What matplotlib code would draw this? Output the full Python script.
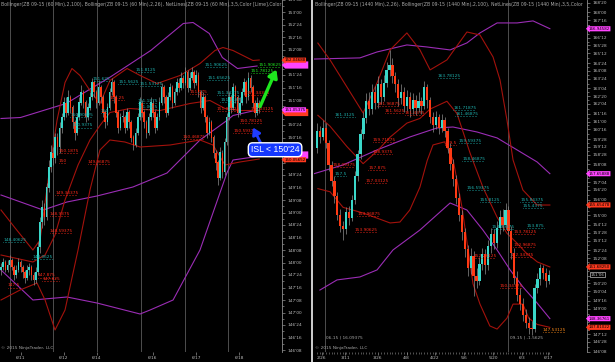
import matplotlib
matplotlib.use("Agg")
import matplotlib.pyplot as plt
import matplotlib.transforms as mtransforms
from matplotlib.patches import Polygon
from matplotlib import font_manager
import numpy as np

# ------------------------------------------------------------------ data
# Left panel: ZB 09-15, 60-minute bars (open of each bar = previous close)
L_first_open = 147.85
L_close = [147.90, 148.00, 147.85, 147.95, 148.05, 147.90, 147.75, 147.85, 148.00, 147.90,
           147.80, 147.70, 147.85, 147.90, 147.75, 147.65, 147.80, 148.30, 148.80, 149.10,
           148.90, 149.50, 149.90, 150.20, 150.10, 150.50, 150.30, 150.70, 150.90, 151.20,
           151.00, 151.30, 151.10, 150.80, 150.60, 150.90, 151.20, 151.40, 151.20, 150.90,
           151.10, 151.30, 151.60, 151.40, 151.20, 151.50, 151.30, 151.00, 150.80, 151.10,
           151.40, 151.60, 151.30, 151.00, 150.70, 150.90, 150.90, 150.70, 151.00, 150.80,
           150.50, 150.35, 150.60, 150.90, 151.20, 151.00, 150.80, 150.60, 150.90, 151.20,
           151.00, 150.70, 150.90, 151.20, 151.50, 151.30, 151.00, 151.30, 151.50, 151.20,
           151.40, 151.60, 151.50, 151.70, 151.60, 151.80, 151.50, 151.70, 151.80, 151.60,
           151.75, 151.40, 151.10, 151.30, 150.90, 150.60, 150.80, 150.50, 150.20, 150.00,
           149.70, 150.20, 149.80, 150.40, 150.90, 151.30, 151.10, 151.50, 151.30, 151.00,
           151.20, 151.40, 151.60, 151.30, 151.70, 151.50, 151.20, 151.00, 151.20, 151.10]
L_high = [148.00, 148.10, 148.05, 148.05, 148.15, 148.10, 147.95, 147.95, 148.10, 148.05,
          147.95, 147.85, 147.95, 148.00, 147.95, 147.80, 147.90, 148.40, 148.90, 149.25,
          149.20, 149.60, 150.05, 150.35, 150.30, 150.60, 150.60, 150.80, 151.00, 151.30,
          151.30, 151.45, 151.35, 151.15, 150.85, 151.00, 151.30, 151.55, 151.45, 151.25,
          151.20, 151.40, 151.70, 151.65, 151.45, 151.65, 151.55, 151.35, 151.05, 151.20,
          151.50, 151.70, 151.65, 151.35, 151.05, 151.00, 151.05, 150.95, 151.10, 151.05,
          150.85, 150.55, 150.70, 151.00, 151.30, 151.25, 151.05, 150.85, 151.00, 151.30,
          151.25, 151.05, 151.00, 151.30, 151.60, 151.55, 151.35, 151.40, 151.60, 151.55,
          151.50, 151.70, 151.70, 151.80, 151.75, 151.90, 151.85, 151.80, 151.92, 151.85,
          151.85, 151.80, 151.45, 151.40, 151.35, 150.95, 150.90, 150.85, 150.55, 150.25,
          150.05, 150.30, 150.25, 150.50, 151.00, 151.40, 151.35, 151.60, 151.55, 151.35,
          151.30, 151.50, 151.70, 151.65, 151.80, 151.75, 151.55, 151.25, 151.30, 151.25]
L_low = [147.75, 147.85, 147.80, 147.80, 147.90, 147.85, 147.65, 147.70, 147.80, 147.80,
         147.70, 147.60, 147.65, 147.75, 147.65, 147.55, 147.60, 147.75, 148.20, 148.70,
         148.75, 148.85, 149.40, 149.80, 149.95, 150.00, 150.15, 150.20, 150.60, 150.85,
         150.90, 150.95, 151.00, 150.70, 150.45, 150.55, 150.85, 151.15, 151.10, 150.80,
         150.85, 151.05, 151.25, 151.30, 151.10, 151.15, 151.20, 150.90, 150.70, 150.75,
         151.05, 151.35, 151.20, 150.90, 150.60, 150.65, 150.80, 150.60, 150.65, 150.70,
         150.40, 150.25, 150.30, 150.55, 150.85, 150.90, 150.70, 150.50, 150.55, 150.85,
         150.90, 150.60, 150.65, 150.85, 151.15, 151.20, 150.90, 150.95, 151.25, 151.10,
         151.15, 151.35, 151.40, 151.45, 151.50, 151.55, 151.40, 151.45, 151.65, 151.50,
         151.55, 151.30, 151.00, 151.05, 150.80, 150.50, 150.55, 150.40, 150.10, 149.85,
         149.55, 149.65, 149.70, 149.75, 150.35, 150.85, 151.00, 151.05, 151.20, 150.90,
         150.95, 151.15, 151.35, 151.20, 151.25, 151.40, 151.10, 150.90, 150.95, 151.00]

# Left Bollinger bands (bar index, price)
L_p_up_x = [0, 9, 30, 50, 69, 84, 88.5, 96, 102, 109, 118]
L_p_up_y = [150.88, 150.90, 151.18, 151.70, 152.24, 152.78, 152.80, 152.58, 152.10, 151.88, 151.93]
L_p_mid_x = [0, 19.4, 30.4, 44.2, 60.8, 76.5, 91.7, 104.1, 106.9, 118]
L_p_mid_y = [149.35, 149.05, 149.21, 149.33, 149.51, 149.79, 150.45, 150.84, 150.94, 151.05]
L_p_lo_x = [0, 14.7, 30.4, 44.2, 64.1, 68.7, 79.3, 91.7, 104.1, 106.9, 118]
L_p_lo_y = [147.85, 147.25, 147.31, 147.19, 146.97, 147.05, 147.25, 148.25, 149.79, 150.05, 150.12]
L_r_up_x = [0, 6.5, 14.7, 18, 21.7, 25.8, 29.5, 32.7, 36.4, 41, 45.6, 50.2, 58.1, 64.1, 71.9,
            82.5, 91.7, 98.6, 102.3, 106.9, 116.1, 119]
L_r_up_y = [149.05, 148.69, 148.25, 148.45, 149.65, 150.84, 151.60, 151.88, 151.74, 151.44,
            151.18, 151.64, 151.88, 151.74, 151.58, 151.74, 151.98, 152.24, 152.30, 152.24,
            152.04, 152.05]
L_r_mid_x = [0, 14.7, 20.3, 24.9, 29.5, 35.5, 41, 45.6, 50.2, 59.4, 73.3, 87.1, 96.3, 103.2, 110.1, 119]
L_r_mid_y = [148.15, 148.01, 148.15, 148.55, 149.25, 149.95, 150.45, 150.74, 151.00, 151.08,
             151.04, 151.18, 151.24, 151.08, 151.04, 151.04]
L_r_lo_x = [0, 8.8, 16.6, 20.3, 24.9, 29.5, 35.5, 41, 45.6, 50.2, 57.1, 64.1, 77.9, 91.7,
            97.7, 103.2, 110.1, 119]
L_r_lo_y = [147.25, 147.45, 147.59, 147.25, 146.65, 147.05, 148.25, 149.45, 150.25, 150.45,
            150.41, 150.31, 150.35, 150.45, 150.35, 149.95, 150.01, 150.07]

L_yticks = [146.25, 146.5, 146.75, 147.0, 147.25, 147.5, 147.75, 148.0, 148.25, 148.5,
            148.75, 149.0, 149.25, 149.5, 149.75, 150.0, 150.25, 150.5, 150.75, 151.0,
            151.25, 151.5, 151.75, 152.0, 152.25, 152.5, 152.75, 153.0, 153.25]
L_hidden_ticks = [150.0, 150.25, 151.0, 152.0]      # covered by markers / ISL box
L_date_pos = [9.1, 29.0, 44.1, 69.9, 89.9, 109.8]
L_date_lbl = ['6/11', '6/12', '6/14', '6/16', '6/17', '6/18']
L_sessions = [4.15, 24.1, 44.1, 64.5, 84.8, 104.8]

# NetLines price labels: (text, bar, price, colour key)
L_netlines = [
    ("151.8125", 62, 151.8125, 'c'), ("151.625", 42, 151.625, 'c'), ("151.5625", 54, 151.5625, 'c'),
    ("151.53125", 64, 151.53125, 'c'), ("151.90625", 94, 151.90625, 'c'), ("151.65625", 95, 151.65625, 'c'),
    ("151.375", 87, 151.375, 'r'), ("151.34375", 99.5, 151.34375, 'c'), ("151.21875", 101, 151.21875, 'c'),
    ("151.34375", 113, 151.34375, 'r'), ("151.1875", 63, 151.1875, 'c'), ("151.0625", 63, 151.0625, 'c'),
    ("151.25", 50, 151.25, 'r'), ("151", 46, 151.0, 'c'), ("151.03125", 99.5, 151.03125, 'r'),
    ("151.03125", 115, 151.03125, 'r'), ("150.90625", 32, 150.90625, 'c'), ("150.9375", 33, 150.70, 'c'),
    ("151.90625", 118.5, 151.90625, 'g'), ("151.78125", 115, 151.78125, 'g'),
    ("150.78125", 110, 150.78125, 'r'), ("150.59375", 107, 150.59375, 'r'), ("150.1875", 26.5, 150.1875, 'r'),
    ("150", 26.5, 150.0, 'r'), ("149.96875", 40, 149.96875, 'r'), ("150.46875", 83.5, 150.46875, 'r'),
    ("149.34375", 25, 149.34375, 'r'), ("148.9375", 22.5, 148.9375, 'r'), ("148.59375", 22.5, 148.59375, 'r'),
    ("148.40625", 1, 148.40625, 'c'), ("148.0625", 14.5, 148.0625, 'c'), ("147.875", 17, 147.70, 'r'),
    ("147.625", 19, 147.625, 'r'), ("147.5", 3, 147.5, 'r'),
]

# Right panel: ZB, daily (1440 min) bars
R_first_open = 159.3
R_close = [160.4, 160.0, 160.6, 159.6, 158.2, 157.2, 156.2, 155.0, 154.3, 154.1,
           155.2, 154.8, 156.0, 157.5, 158.9, 160.2, 161.2, 162.3, 161.8, 162.9,
           162.2, 163.4, 162.6, 163.5, 164.3, 164.6, 163.9, 163.4, 162.5, 162.9,
           162.0, 162.6, 161.8, 162.4, 161.9, 162.3, 162.0, 163.2, 162.4, 161.3,
           160.8, 161.3, 160.6, 161.1, 160.4, 159.3, 158.3, 157.3, 156.1, 155.0,
           153.9, 152.8, 151.6, 152.4, 151.1, 150.8, 151.9, 152.5, 151.8, 153.0,
           153.8, 153.2, 154.2, 154.9, 154.4, 155.3, 154.0, 152.6, 151.0, 149.9,
           149.3, 148.6, 148.1, 147.8, 147.7, 150.3, 150.9, 151.6, 151.3, 150.8,
           151.19]
R_high = [160.9, 160.7, 161.1, 160.9, 159.8, 158.5, 157.5, 156.5, 155.4, 154.6,
          155.5, 155.6, 156.3, 157.8, 159.2, 160.5, 161.6, 162.8, 162.9, 163.4,
          163.3, 163.9, 163.7, 164.0, 164.8, 165.6, 165.1, 164.2, 163.7, 163.4,
          163.2, 163.0, 162.9, 162.8, 162.7, 162.9, 162.6, 163.6, 163.4, 162.6,
          161.6, 161.7, 161.5, 161.5, 161.3, 160.6, 159.6, 158.6, 157.6, 156.4,
          155.3, 154.2, 153.1, 152.9, 152.7, 151.6, 152.3, 152.9, 152.8, 153.4,
          154.2, 154.1, 154.6, 155.3, 155.4, 155.8, 155.6, 154.3, 152.9, 151.4,
          150.3, 149.7, 149.0, 148.5, 148.2, 150.6, 151.3, 151.9, 151.8, 151.6,
          151.5]
R_low = [159.0, 159.6, 159.8, 159.3, 157.8, 156.9, 155.8, 154.7, 153.9, 153.4,
         153.8, 154.4, 154.6, 155.7, 157.2, 158.6, 159.9, 160.9, 161.4, 161.5,
         161.8, 161.9, 162.1, 162.3, 163.2, 163.9, 163.5, 162.9, 162.0, 162.1,
         161.6, 161.7, 161.3, 161.5, 161.4, 161.6, 161.5, 161.8, 161.9, 160.9,
         160.3, 160.5, 160.2, 160.3, 160.0, 159.0, 157.9, 156.9, 155.7, 154.6,
         153.4, 152.3, 151.1, 151.2, 149.8, 150.3, 150.5, 151.5, 151.2, 151.5,
         152.6, 152.8, 152.9, 153.8, 154.0, 154.1, 153.7, 152.2, 150.6, 149.5,
         148.9, 148.2, 147.8, 147.4, 147.3, 147.5, 150.0, 150.5, 150.9, 150.4,
         150.6]

R_p_up_x = [-2.4, 14.8, 20.7, 31, 37.9, 45.9, 51.7, 56.2, 62.1, 69, 74.5, 80.3]
R_p_up_y = [165.0, 165.08, 165.46, 165.91, 165.78, 165.59, 166.04, 166.68, 167.32, 167.32, 167.45, 166.95]
R_p_mid_x = [-2.4, 9, 20.7, 32, 41.4, 46.9, 55.2, 62.1, 69, 75.9, 80.3]
R_p_mid_y = [157.58, 158.22, 159.18, 160.01, 160.59, 160.65, 160.33, 159.95, 159.18, 158.41, 157.66]
R_p_lo_x = [1, 6.9, 14.8, 20.7, 26.2, 35.5, 45.9, 51.7, 57.2, 62.1, 66.6, 71, 75.9, 80.3]
R_p_lo_y = [150.2, 150.85, 151.04, 151.49, 152.77, 154.05, 155.78, 155.33, 154.05, 152.77,
            151.49, 150.4, 149.37, 148.37]
R_r_up_x = [0.3, 4.5, 10.3, 15.9, 20.7, 25.2, 31, 35.5, 39, 44.8, 51.7, 56.2, 60.7, 63.1,
            65.5, 67.6, 71, 75.9, 80.3]
R_r_up_y = [166.03, 164.95, 163.22, 161.55, 163.47, 165.59, 166.68, 165.59, 164.31, 164.95,
            166.74, 166.55, 165.14, 163.67, 161.1, 158.54, 156.61, 155.65, 155.65]
R_r_mid_x = [0.3, 4.5, 10.3, 15.9, 20.7, 25.2, 31, 35.5, 39, 44.8, 48.3, 52.8, 57.2, 62.1,
             65.5, 69, 72, 76, 80.3]
R_r_mid_y = [161.4, 160.7, 159.4, 158.3, 159.1, 160.0, 160.9, 161.2, 161.8, 162.3, 161.5,
             158.97, 156.79, 154.87, 153.84, 153.2, 152.6, 152.0, 151.68]
R_r_lo_x = [0.3, 4.5, 9, 15.9, 25.2, 28.6, 32, 35.5, 38, 40, 44, 47, 50, 53.8, 56.2, 59.6,
            62.1, 65.5, 67.6, 71, 73, 75.9, 80.3]
R_r_lo_y = [156.7, 156.5, 155.5, 155.14, 154.5, 154.56, 155.33, 156.8, 158.5, 159.5, 159.7,
            158.5, 155.5, 150.6, 149.3, 147.9, 147.7, 148.4, 149.3, 149.3, 148.4, 148.0, 147.81]

R_yticks = [146.25, 146.875, 147.375, 147.875, 148.375, 149.0, 149.5, 150.125, 150.625, 151.125,
            151.75, 152.25, 152.75, 153.375, 153.875, 154.375, 155.0, 155.5, 156.0, 156.625,
            157.125, 157.625, 158.25, 158.875, 159.375, 159.875, 160.5, 161.0, 161.5, 162.125,
            162.625, 163.125, 163.75, 164.25, 164.75, 165.375, 165.875, 166.375, 166.875, 167.5,
            168.0, 168.625]
R_hidden_ticks = [147.875, 148.375, 151.125, 151.75, 155.5, 157.625, 166.875]
R_date_pos = [1.6, 9.7, 21.0, 30.9, 40.7, 50.7, 60.7, 70.6, 79.7]
R_date_lbl = ['2/26', '3/11', '3/26', '4/8', '4/22', '5/6', '5/20', '6/3', '6/17']
R_rollovers = [2.76, 65.9]
R_rollover_txt = ['06-15 | 16.09375', '09-15 | -1.5625']

R_netlines = [
    ("163.78125", 41.7, 163.78125, 'c'), ("161.3125", 6.2, 161.3125, 'c'), ("161.71875", 46.9, 161.71875, 'c'),
    ("161.46875", 47.6, 161.38, 'c'), ("161.96875", 20.7, 161.96875, 'r'), ("161.5625", 23.4, 161.5625, 'r'),
    ("161.4375", 30.3, 161.4375, 'r'), ("159.71875", 19.3, 159.71875, 'r'), ("159.5", 44.0, 159.5, 'r'),
    ("159.59375", 48.8, 159.59375, 'c'), ("158.9375", 19, 158.9375, 'r'), ("158.46875", 50, 158.46875, 'c'),
    ("158.09375", 5.2, 158.09375, 'r'), ("157.875", 17.6, 157.875, 'r'), ("157.5", 6.2, 157.5, 'c'),
    ("157.03125", 16.6, 157.03125, 'r'), ("156.59375", 51.7, 156.59375, 'c'), ("155.8125", 56.2, 155.8125, 'c'),
    ("155.84375", 70, 155.84375, 'c'), ("155.4375", 71, 155.4375, 'c'), ("154.96875", 13.8, 154.96875, 'r'),
    ("154.09375", 60.3, 154.09375, 'c'), ("153.90625", 13.1, 153.90625, 'r'), ("153.78125", 67.6, 153.78125, 'r'),
    ("153.875", 72.4, 154.15, 'c'), ("152.96875", 67.6, 152.96875, 'r'), ("152.28125", 53.8, 152.28125, 'r'),
    ("152.34375", 66.6, 152.34375, 'r'), ("150.34375", 63.1, 150.34375, 'r'), ("147.53125", 77.9, 147.53125, 'o'),
]

# panel headers (cut off by the panel edge in the original)
L_header = ("Bollinger(ZB 09-15 (60 Min),2,100), Bollinger(ZB 09-15 (60 Min),2,26), "
            "NetLines(ZB 09-15 (60 Min),3,5,Color [Lime],Color")
R_header = ("Bollinger(ZB 09-15 (1440 Min),2,26), Bollinger(ZB 09-15 (1440 Min),2,100), "
            "NetLines(ZB 09-15 (1440 Min),3,5,Color")

# axis price markers: (price, text, colour key); text None = partly hidden marker underneath
L_markers = [(151.95, None, 'p'), (152.04688, "152.04688", 'r'),
             (151.00, None, 'r'), (151.05375, "151.05375", 'p'),
             (150.15, None, 'p'), (150.05652, "150.05652", 'r')]
R_markers = [(166.94582, "166.94582", 'p'), (157.65888, "157.65888", 'p'),
             (155.65478, "155.65478", 'r'), (151.68250, "151.68250", 'r'),
             (148.36761, "148.36761", 'p'), (147.81022, "147.81022", 'r')]
R_last = (151.1875, "151'06")

# ------------------------------------------------------------------ style
avail = {f.name for f in font_manager.fontManager.ttflist}
NARROW = 'Liberation Sans Narrow' if 'Liberation Sans Narrow' in avail else 'DejaVu Sans'
SC = 1.0 if NARROW != 'DejaVu Sans' else 0.72
plt.rcParams['font.family'] = [NARROW, 'DejaVu Sans']

BG = 'black'
UP = '#3ad7c9'
DN = '#ff3a14'
WICK = '#8c8c8c'
RED_BAND = '#a3120c'
PUR_BAND = '#9b2db5'
GRID = '#5a5a5a'
AXC = '#8f8f8f'
TXT = '#bdbdbd'
NL_COL = {'c': '#1fb3b0', 'r': '#ff2a1a', 'g': '#22ee22', 'o': '#ff8c1a'}
MK_COL = {'r': '#ff3a1f', 'p': '#ff44ff'}

W, H = 615, 362
fig = plt.figure(figsize=(W / 100, H / 100), dpi=100, facecolor=BG)


def px_axes(x0, x1, y0, y1):
    return fig.add_axes([x0 / W, 1 - y1 / H, (x1 - x0) / W, (y1 - y0) / H])


def fmt32(v):
    whole = int(np.floor(v + 1e-9))
    frac = int(round((v - whole) * 32))
    return f"{whole}'{frac:02d}"


def draw_candles(ax, first_open, closes, highs, lows, width):
    opens = [first_open] + list(closes[:-1])
    xs = np.arange(len(closes))
    ax.vlines(xs, lows, highs, color=WICK, lw=0.5, zorder=3)
    bottoms, heights, cols = [], [], []
    for o, c in zip(opens, closes):
        lo, hi = min(o, c), max(o, c)
        bottoms.append(lo)
        heights.append(max(hi - lo, 0.02))
        cols.append(UP if c >= o else DN)
    ax.bar(xs, heights, width, bottom=bottoms, color=cols, linewidth=0, zorder=4)


def style_axes(ax, yticks, hidden, ylim, xlim, date_pos, date_lbl, minor_x=None):
    ax.set_facecolor(BG)
    ax.set_ylim(*ylim)
    ax.set_xlim(*xlim)
    for s in ('left', 'top', 'bottom'):
        ax.spines[s].set_visible(False)
    ax.spines['right'].set_color(AXC)
    ax.spines['right'].set_linewidth(0.6)
    ax.yaxis.tick_right()
    ax.set_yticks(yticks)
    ax.set_yticklabels(['' if v in hidden else fmt32(v) for v in yticks])
    mids = [(a + b) / 2 for a, b in zip(yticks[:-1], yticks[1:])]
    ax.set_yticks(mids, minor=True)
    ax.tick_params(axis='y', which='major', direction='out', length=2.5, width=0.5,
                   color=AXC, labelcolor=TXT, labelsize=4.3 * SC, pad=1.2)
    ax.tick_params(axis='y', which='minor', direction='out', length=1.5, width=0.5, color=AXC)
    ax.set_xticks(date_pos)
    ax.set_xticklabels(date_lbl)
    if minor_x is not None:
        ax.set_xticks(minor_x, minor=True)
    ax.tick_params(axis='x', which='major', direction='out', length=2, width=0.5,
                   color=AXC, labelcolor=TXT, labelsize=4.3 * SC, pad=1.0)
    ax.tick_params(axis='x', which='minor', direction='out', length=1.5, width=0.4, color=AXC)


def netlines(ax, items, px_per_bar):
    for txt, x, y, ck in items:
        col = NL_COL[ck]
        ax.text(x, y, txt, color=col, fontsize=4.2 * SC, ha='left', va='bottom',
                zorder=6, clip_on=True)
        w = 2.45 * len(txt) / px_per_bar
        ax.plot([x, x + w], [y, y], color=col, lw=0.6, ls=(0, (0.6, 1.2)), zorder=6)


def markers(ax, items, xoff, ax_w_px, px_per_pt):
    tr = ax.get_yaxis_transform()
    for v, txt, ck in items:
        if txt is None:
            # marker lying underneath another one: only its coloured shape shows
            h = 3.6 / px_per_pt
            x0 = xoff - 2.5 / ax_w_px
            x1 = xoff + 24 / ax_w_px
            xa = xoff + 1.0 / ax_w_px
            poly = Polygon([(x0, v), (xa, v + h), (x1, v + h), (x1, v - h), (xa, v - h)],
                           closed=True, transform=tr, fc=MK_COL[ck], ec='none',
                           clip_on=False, zorder=19)
            ax.add_patch(poly)
        else:
            ax.text(xoff, v, txt, transform=tr, fontsize=4.0 * SC, color='black', ha='left',
                    va='center', clip_on=False, zorder=20,
                    bbox=dict(boxstyle='larrow,pad=0.14', fc=MK_COL[ck], ec='none'))


# ------------------------------------------------------------------ left panel
axL = px_axes(0, 282, 0, 352)
L_dx = 2.17
style_axes(axL, L_yticks, L_hidden_ticks, (146.21, 153.24), (-1 / L_dx, 281 / L_dx),
           L_date_pos, L_date_lbl)
for s in L_sessions:
    axL.axvline(s, color=GRID, lw=0.6, zorder=1)
axL.plot(L_p_up_x, L_p_up_y, color=PUR_BAND, lw=0.8, zorder=2)
axL.plot(L_p_mid_x, L_p_mid_y, color=PUR_BAND, lw=0.8, zorder=2)
axL.plot(L_p_lo_x, L_p_lo_y, color=PUR_BAND, lw=0.8, zorder=2)
axL.plot(L_r_up_x, L_r_up_y, color=RED_BAND, lw=0.8, zorder=2)
axL.plot(L_r_mid_x, L_r_mid_y, color=RED_BAND, lw=0.8, zorder=2)
axL.plot(L_r_lo_x, L_r_lo_y, color=RED_BAND, lw=0.8, zorder=2)
draw_candles(axL, L_first_open, L_close, L_high, L_low, 0.75)
netlines(axL, L_netlines, L_dx)
axL.text(0.003, 0.995, L_header, transform=axL.transAxes, fontsize=4.6 * SC, color='#a8a8a8',
         va='top', ha='left', clip_on=True, zorder=7)
axL.text(0.003, 0.006, "\u00a9 2015 NinjaTrader, LLC", transform=axL.transAxes,
         fontsize=4.3 * SC, color='#a8a8a8', va='bottom', ha='left', zorder=7)
markers(axL, L_markers, 1.008, 282, 50.06)

# arrows and ISL box
axL.annotate('', xy=(126.9, 151.86), xytext=(119.4, 151.12), zorder=15,
             arrowprops=dict(arrowstyle='-|>,head_width=0.28,head_length=0.45',
                             color='#1ee61e', lw=2.4, shrinkA=0, shrinkB=0))
axL.annotate('', xy=(116.1, 150.70), xytext=(119.8, 150.38), zorder=15,
             arrowprops=dict(arrowstyle='-|>,head_width=0.25,head_length=0.4',
                             color='#1f3cff', lw=2.0, shrinkA=0, shrinkB=0))
axL.text(126.3, 150.255, "ISL < 150'24", fontsize=6.3, color='white', ha='center', va='center',
         family=['Liberation Sans', 'DejaVu Sans'], zorder=25, clip_on=False,
         bbox=dict(boxstyle='round,pad=0.28,rounding_size=0.5', fc='#1438ff', ec='white', lw=1.0))

# ------------------------------------------------------------------ right panel
axR = px_axes(314, 587, 0, 352)
R_dx = 2.9
style_axes(axR, R_yticks, R_hidden_ticks, (146.23, 168.79), (-3 / R_dx, 270 / R_dx),
           R_date_pos, R_date_lbl, minor_x=list(range(0, len(R_close))))
for r, t in zip(R_rollovers, R_rollover_txt):
    axR.axvline(r, color=GRID, lw=0.6, zorder=1)
    axR.text(r + 0.5, 0.035, t, transform=mtransforms.blended_transform_factory(axR.transData, axR.transAxes),
             fontsize=4.3 * SC, color='#a8a8a8', ha='left', va='bottom', zorder=7)
axR.plot(R_p_up_x, R_p_up_y, color=PUR_BAND, lw=0.8, zorder=2)
axR.plot(R_p_mid_x, R_p_mid_y, color=PUR_BAND, lw=0.8, zorder=2)
axR.plot(R_p_lo_x, R_p_lo_y, color=PUR_BAND, lw=0.8, zorder=2)
axR.plot(R_r_up_x, R_r_up_y, color=RED_BAND, lw=0.8, zorder=2)
axR.plot(R_r_mid_x, R_r_mid_y, color=RED_BAND, lw=0.8, zorder=2)
axR.plot(R_r_lo_x, R_r_lo_y, color=RED_BAND, lw=0.8, zorder=2)
draw_candles(axR, R_first_open, R_close, R_high, R_low, 0.8)
netlines(axR, R_netlines, R_dx)
axR.text(0.003, 0.995, R_header, transform=axR.transAxes, fontsize=4.6 * SC, color='#a8a8a8',
         va='top', ha='left', clip_on=True, zorder=7)
axR.text(0.005, 0.006, "\u00a9 2015 NinjaTrader, LLC", transform=axR.transAxes,
         fontsize=4.3 * SC, color='#a8a8a8', va='bottom', ha='left', zorder=7)
markers(axR, R_markers, 1.006, 273, 15.6)
axR.text(1.012, R_last[0], R_last[1], transform=axR.get_yaxis_transform(), fontsize=4.1 * SC,
         color=TXT, ha='left', va='center', clip_on=False, zorder=20,
         bbox=dict(boxstyle='square,pad=0.15', fc='black', ec='#bbbbbb', lw=0.5))

# panel divider
fig.add_artist(plt.Line2D([311.5 / W, 311.5 / W], [0, 1], color='#cfcfcf', lw=1.4))

fig.savefig('out.png', dpi=100, facecolor=BG)
